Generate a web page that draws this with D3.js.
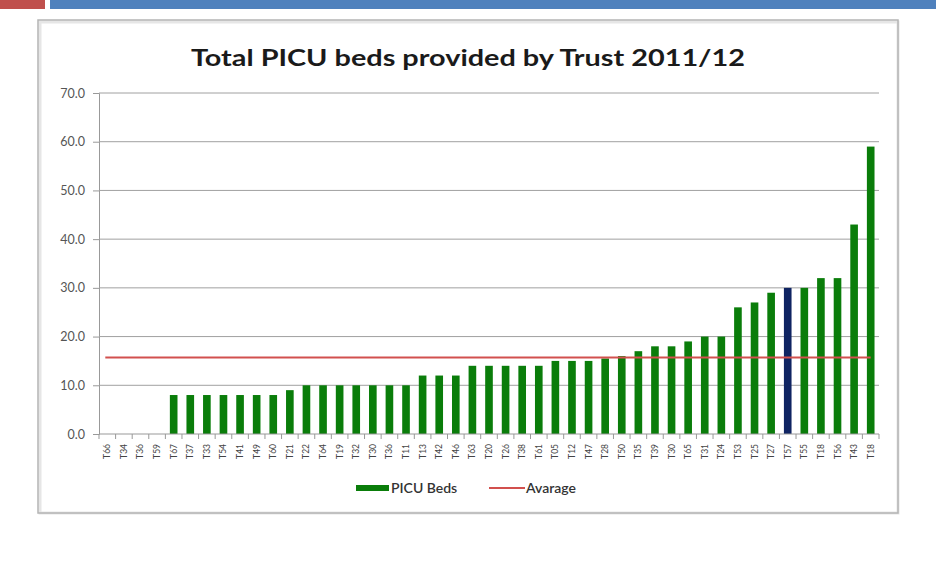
<!DOCTYPE html>
<html>
<head>
<meta charset="utf-8">
<script src="https://cdn.jsdelivr.net/npm/d3@7"></script>
<style>
body { margin: 0; background: #fff; }
svg { font-family: Lato, "Open Sans", sans-serif; }
</style>
</head>
<body>
<div id="chart"></div>
<script>
// chart data
var trusts = ["T66","T34","T36","T59","T67","T37","T33","T54","T41","T49","T60","T21","T22","T64","T19","T32",
  "T30","T36","T11","T13","T42","T46","T63","T20","T26","T38","T61","T05","T12","T47","T28","T50",
  "T35","T39","T30","T65","T31","T24","T53","T25","T27","T57","T55","T18","T56","T43","T18"];
var beds = [0,0,0,0,8,8,8,8,8,8,8,9,10,10,10,10,
  10,10,10,12,12,12,14,14,14,14,14,15,15,15,15.5,16,
  17,18,18,19,20,20,26,27,29,30,30,32,32,43,59];
var highlighted = 41; // the dark bar
var yTicks = [0,10,20,30,40,50,60,70];
var average = d3.mean(beds);

var svgWidth = 936, svgHeight = 563;
var svg = d3.select("#chart").append("svg")
    .attr("width", svgWidth)
    .attr("height", svgHeight);

// slide header bars
svg.append("rect").attr("x", 0).attr("y", 0).attr("width", 45).attr("height", 9).attr("fill", "#c0504d");
svg.append("rect").attr("x", 50).attr("y", 0).attr("width", 886).attr("height", 9).attr("fill", "#4f81bd");

// chart frame
svg.append("rect").attr("x", 40).attr("y", 22).attr("width", 858).attr("height", 491)
    .attr("fill", "none").attr("stroke", "#e6e6e6").attr("stroke-width", 3);
svg.append("rect").attr("x", 38).attr("y", 20).attr("width", 860).attr("height", 493)
    .attr("fill", "none").attr("stroke", "#b4b4b4").attr("stroke-width", 1.5);

svg.append("text")
    .attr("x", 468).attr("y", 66)
    .attr("text-anchor", "middle")
    .attr("font-size", 23).attr("font-weight", "bold")
    .attr("fill", "#1a1a1a")
    .attr("textLength", 554).attr("lengthAdjust", "spacingAndGlyphs")
    .text("Total PICU beds provided by Trust 2011/12");

var x = d3.scaleBand()
    .domain(d3.range(trusts.length))
    .range([99, 879])
    .paddingInner(0.54).paddingOuter(0.27);

var y = d3.scaleLinear().domain([0, 70]).range([434, 93]);

// gridlines + y axis
var yAxis = svg.append("g")
    .attr("transform", "translate(99,0)")
    .call(d3.axisLeft(y).tickValues(yTicks).tickFormat(d3.format(".1f")).tickSize(6).tickPadding(8));
yAxis.select(".domain").attr("stroke", "#999");
yAxis.selectAll(".tick line").attr("stroke", "#999");
yAxis.selectAll("text").attr("font-size", 12.5).attr("fill", "#555").attr("font-family", "Lato, sans-serif");

svg.append("g").selectAll("line")
    .data(yTicks.filter(d => d > 0))
    .enter().append("line")
    .attr("x1", 99).attr("x2", 879)
    .attr("y1", d => y(d)).attr("y2", d => y(d))
    .attr("stroke", "#a0a0a0").attr("stroke-width", 1);

// bars
svg.append("g").selectAll("rect")
    .data(beds)
    .enter().append("rect")
    .attr("x", (d, i) => x(i))
    .attr("y", d => y(d))
    .attr("width", x.bandwidth())
    .attr("height", d => y(0) - y(d))
    .attr("fill", (d, i) => i === highlighted ? "#0f2462" : "#0a7d0a");

// x axis
var step = x.step();
var xAxis = svg.append("g").attr("transform", "translate(0,434)");
xAxis.append("line").attr("x1", 99).attr("x2", 879).attr("stroke", "#999");
xAxis.selectAll(".tk")
    .data(d3.range(trusts.length + 1))
    .enter().append("line")
    .attr("x1", i => 99 + i * step).attr("x2", i => 99 + i * step)
    .attr("y1", 0).attr("y2", 5).attr("stroke", "#999");
xAxis.selectAll("text")
    .data(trusts)
    .enter().append("text")
    .attr("transform", (d, i) => "translate(" + (x(i) + x.bandwidth() / 2 + 3) + ",10) rotate(-90)")
    .attr("text-anchor", "end")
    .attr("font-size", 8.5)
    .attr("fill", "#444")
    .text(d => d);

// average line
svg.append("line")
    .attr("x1", x(0) + x.bandwidth() / 2 - 2)
    .attr("x2", x(beds.length - 1) + x.bandwidth() / 2)
    .attr("y1", y(average)).attr("y2", y(average))
    .attr("stroke", "#d2504e").attr("stroke-width", 2);

// legend
var legend = svg.append("g");
legend.append("rect").attr("x", 356).attr("y", 485).attr("width", 33).attr("height", 6).attr("fill", "#0a7d0a");
legend.append("text").attr("x", 391).attr("y", 493).attr("font-size", 14).attr("font-weight", 600)
    .attr("fill", "#333").text("PICU Beds");
legend.append("line").attr("x1", 489).attr("x2", 525).attr("y1", 488).attr("y2", 488)
    .attr("stroke", "#d2504e").attr("stroke-width", 2);
legend.append("text").attr("x", 526).attr("y", 493).attr("font-size", 14).attr("font-weight", 600)
    .attr("fill", "#333").text("Avarage");
</script>
</body>
</html>
